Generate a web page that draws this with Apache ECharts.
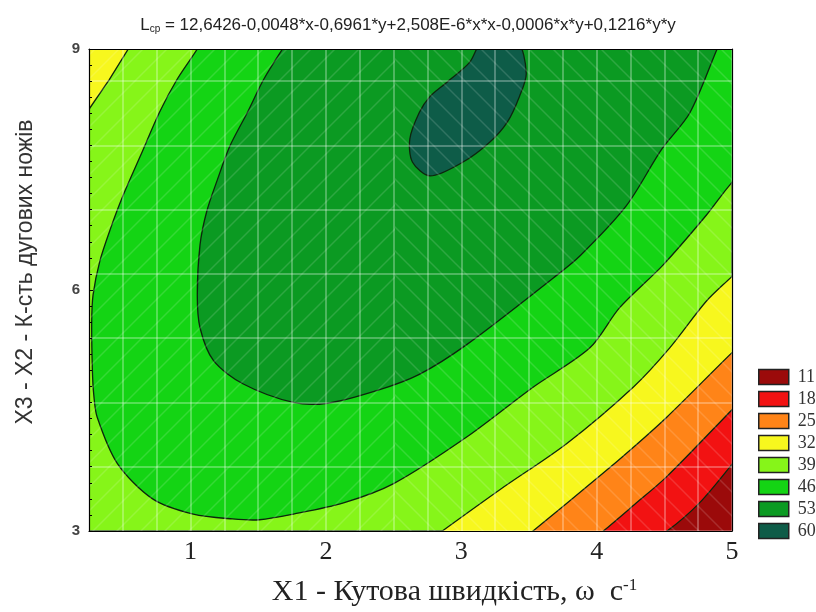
<!DOCTYPE html>
<html>
<head>
<meta charset="utf-8">
<script src="https://cdn.jsdelivr.net/npm/echarts@6/dist/echarts.min.js"></script>
<style>
  html, body { margin: 0; padding: 0; background: #fff; }
  #main { width: 816px; height: 612px; }
</style>
</head>
<body>
<div id="main"></div>
<script>
// рівні легенди (зверху вниз) та їх кольори
const levels = ['11', '18', '25', '32', '39', '46', '53', '60'];
const levelColors = ['#9b0a0a', '#f21212', '#ff8418', '#f7f71e', '#86f519', '#14d414', '#0b9a22', '#0e5c48'];

const xTicks = [1, 2, 3, 4, 5];
const yTicks = [3, 6, 9];

// межі областей ізоліній: [X1, X3]
// (точки за межами 0.25..5 / 3..9 лише замикають контур і обрізаються)
const area39 = [[0.25, 3], [5, 3], [5, 9], [0.25, 9]];
const area32Corner = [[0.25, 9], [0.54, 9], [0.40, 8.62], [0.25, 8.25]];
const area32 = [[2.7, 2.8], [2.86, 3], [3.29, 3.52], [3.78, 4.09], [4.27, 4.79], [4.54, 5.28], [4.81, 5.86],
  [5, 6.17], [5.15, 6.42], [5.6, 6.5], [5.6, 2.5], [2.6, 2.5]];
const area25 = [[3.4, 2.83], [3.53, 3], [4.02, 3.68], [4.27, 4.04], [4.52, 4.42], [5, 5.22], [5.15, 5.45],
  [5.6, 5.5], [5.6, 2.5], [3.3, 2.5]];
const area18 = [[3.9, 2.8], [4.05, 3], [4.28, 3.33], [4.52, 3.68], [5, 4.51], [5.12, 4.72], [5.6, 4.8],
  [5.6, 2.5], [3.8, 2.5]];
const area11 = [[4.35, 2.85], [4.52, 3], [4.76, 3.35], [5, 3.83], [5.1, 4.05], [5.6, 4.1], [5.6, 2.5], [4.2, 2.5]];
const area46 = [
  [1.15, 9.3], [1.05, 9], [0.90, 8.62], [0.77, 8.21], [0.63, 7.67], [0.50, 7.17], [0.41, 6.77], [0.33, 6.36],
  [0.28, 5.94], [0.27, 5.6], [0.275, 5.0], [0.285, 4.7], [0.31, 4.42], [0.46, 3.84], [0.72, 3.40],
  [1.02, 3.21], [1.31, 3.15], [1.51, 3.14], [1.76, 3.21], [2.13, 3.35], [2.50, 3.59], [3.04, 4.17],
  [3.53, 4.79], [3.95, 5.28], [4.17, 5.78], [4.49, 6.31], [4.81, 6.93], [4.98, 7.30], [5.15, 7.6],
  [5.6, 7.7], [5.6, 9.6], [1.2, 9.6]
];
const area53 = [
  [1.8, 9.3], [1.68, 9], [1.54, 8.62], [1.42, 8.21], [1.29, 7.79], [1.20, 7.38], [1.12, 6.98], [1.07, 6.56],
  [1.05, 5.94], [1.07, 5.53], [1.17, 5.12], [1.39, 4.83], [1.76, 4.60], [2.01, 4.59], [2.38, 4.75],
  [2.69, 4.95], [3.04, 5.32], [3.68, 6.15], [3.88, 6.43], [4.22, 7.05], [4.48, 7.75], [4.69, 8.21],
  [4.89, 9], [4.97, 9.3], [5.0, 9.6], [1.9, 9.6]
];
const area60 = [
  [3.16, 9.1], [3.41, 9.1], [3.48, 8.70], [3.43, 8.41], [3.34, 8.09], [3.21, 7.84], [3.01, 7.59],
  [2.77, 7.42], [2.64, 7.59], [2.62, 7.88], [2.69, 8.21], [2.77, 8.41], [2.89, 8.58], [3.06, 8.83]
];

function band(name, pts, smooth) {
  const color = levelColors[levels.indexOf(name)];
  return {
    name: name,
    type: 'custom',
    coordinateSystem: 'cartesian2d',
    silent: true,
    clip: true,
    z: 2,
    itemStyle: { color: color },
    encode: { x: 0, y: 1 },
    data: pts,
    renderItem: function (params, api) {
      if (params.dataIndex !== 0) return null;
      return {
        type: 'polygon',
        shape: { points: pts.map(p => api.coord(p)), smooth: smooth },
        style: { fill: color, stroke: '#0d260d', lineWidth: 1.3 }
      };
    }
  };
}

// слабке діагональне штрихування поверх поля (як на скані)
function hatchTile(dir) {
  const s = 24;
  const c = document.createElement('canvas');
  c.width = c.height = s;
  const g = c.getContext('2d');
  g.strokeStyle = 'rgba(255,255,255,0.14)';
  g.lineWidth = 1.5;
  g.beginPath();
  if (dir > 0) {
    g.moveTo(0, s); g.lineTo(s, 0);
    g.moveTo(-s / 2, s / 2); g.lineTo(s / 2, -s / 2);
    g.moveTo(s / 2, s * 1.5); g.lineTo(s * 1.5, s / 2);
  } else {
    g.moveTo(0, 0); g.lineTo(s, s);
    g.moveTo(-s / 2, s / 2); g.lineTo(s / 2, s * 1.5);
    g.moveTo(s / 2, -s / 2); g.lineTo(s * 1.5, s / 2);
  }
  g.stroke();
  return c;
}

const chart = echarts.init(document.getElementById('main'));
chart.setOption({
  backgroundColor: '#fff',
  animation: false,
  title: {
    text: '{l|L}{s|ср}{l| = 12,6426-0,0048*x-0,6961*y+2,508E-6*x*x-0,0006*x*y+0,1216*y*y}',
    left: 'center',
    top: 12,
    textStyle: {
      rich: {
        l: { fontFamily: 'Liberation Sans', fontSize: 17, fontWeight: 'normal', color: '#222' },
        s: { fontFamily: 'Liberation Sans', fontSize: 10, fontWeight: 'normal', color: '#222', verticalAlign: 'bottom', padding: [6, 0, 0, 0] }
      }
    }
  },
  grid: { left: 89, right: 84, top: 49, bottom: 77 },
  graphic: [
    { type: 'rect', silent: true, z: 3, shape: { x: 89, y: 49, width: 306, height: 486 },
      style: { fill: { image: hatchTile(1), repeat: 'repeat' } } },
    { type: 'rect', silent: true, z: 3, shape: { x: 395, y: 49, width: 337, height: 486 },
      style: { fill: { image: hatchTile(-1), repeat: 'repeat' } } }
  ],
  legend: {
    orient: 'vertical',
    left: 753,
    top: 363,
    icon: 'rect',
    itemWidth: 30,
    itemHeight: 15,
    itemGap: 4,
    data: levels,
    itemStyle: { borderColor: '#222', borderWidth: 1.5 },
    textStyle: { fontFamily: 'Liberation Serif', fontSize: 18, lineHeight: 18, color: '#333', padding: [0, 0, 0, 4] }
  },
  xAxis: [
    {
      type: 'value', min: 0.25, max: 5, interval: 0.25, z: 5,
      axisLine: { show: true, lineStyle: { color: '#000', width: 1.2 } },
      axisTick: { show: false },
      axisLabel: {
        formatter: v => xTicks.includes(v) ? String(v) : '',
        fontFamily: 'Liberation Serif', fontSize: 26, color: '#222', margin: 8
      },
      splitLine: { show: true, lineStyle: { color: 'rgba(255,255,255,0.28)', width: 2 } },
      name: '{a|X1 - Кутова швидкість, ω  с}{b|-1}',
      nameLocation: 'middle',
      nameGap: 46,
      nameTextStyle: {
        padding: [0, 0, 0, 88],
        rich: {
          a: { fontFamily: 'Liberation Serif', fontSize: 30, color: '#222' },
          b: { fontFamily: 'Liberation Serif', fontSize: 17, color: '#222', verticalAlign: 'top' }
        }
      }
    },
    {
      type: 'value', position: 'top', min: 0.25, max: 5, z: 5,
      axisLine: { show: true, lineStyle: { color: '#000', width: 1.2 } },
      axisTick: { show: false }, axisLabel: { show: false }, splitLine: { show: false }
    }
  ],
  yAxis: [
    {
      type: 'value', min: 3, max: 9, interval: 3, z: 5,
      axisLine: { show: true, lineStyle: { color: '#000', width: 1.2 } },
      axisTick: { show: true, inside: true, length: 4, lineStyle: { color: '#000' } },
      minorTick: { show: true, splitNumber: 15, length: 3, lineStyle: { color: '#000' } },
      axisLabel: {
        formatter: v => yTicks.includes(v) ? String(v) : '',
        fontFamily: 'Liberation Sans', fontSize: 15, fontWeight: 'bold', color: '#444', margin: 9
      },
      splitLine: { show: false },
      name: 'X3 - X2 - К-сть дугових ножів',
      nameLocation: 'middle',
      nameGap: 52,
      nameTextStyle: { fontFamily: 'Liberation Sans', fontSize: 23, color: '#333', padding: [0, 0, 0, 36] }
    },
    {
      type: 'value', position: 'right', min: 2.4, max: 8.4, interval: 0.8, z: 5,
      axisLine: { show: true, lineStyle: { color: '#000', width: 1.2 } },
      axisTick: { show: false }, axisLabel: { show: false },
      splitLine: { show: true, lineStyle: { color: 'rgba(255,255,255,0.28)', width: 2 } }
    }
  ],
  series: [
    band('39', area39, 0),
    band('32', area32Corner, 0),
    band('32', area32, 0.3),
    band('25', area25, 0.3),
    band('18', area18, 0.3),
    band('11', area11, 0.3),
    band('46', area46, 0.3),
    band('53', area53, 0.3),
    band('60', area60, 0.3)
  ]
});
</script>
</body>
</html>
